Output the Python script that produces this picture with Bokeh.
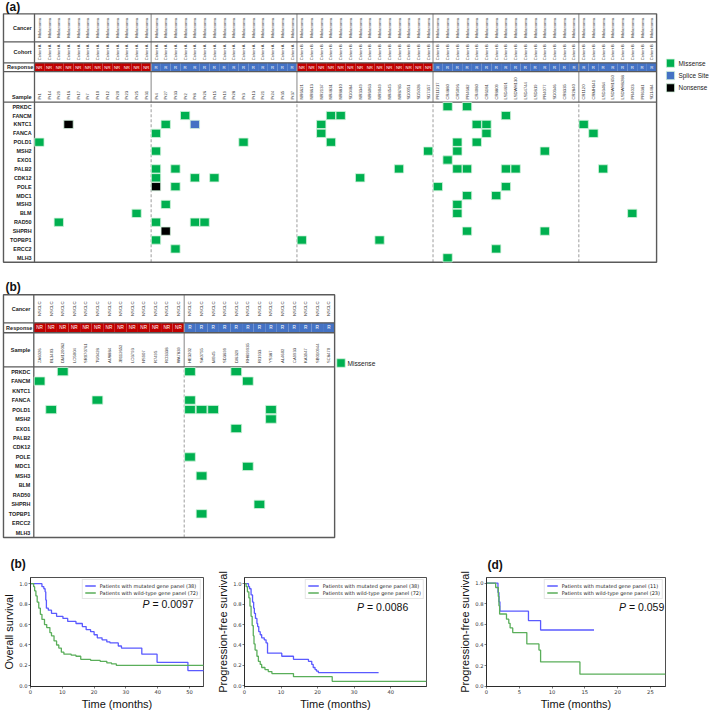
import math
from bokeh.plotting import figure
from bokeh.models import Range1d, ColumnDataSource, Spacer, NumeralTickFormatter
from bokeh.layouts import column, row
from bokeh.core.properties import value
from bokeh.embed import file_html
from bokeh.resources import INLINE

FONT = "Liberation Sans"
MPL = "DejaVu Sans"

GENES = ["PRKDC", "FANCM", "KNTC1", "FANCA", "POLD1", "MSH2", "EXO1", "PALB2", "CDK12",
         "POLE", "MDC1", "MSH3", "BLM", "RAD50", "SHPRH", "TOPBP1", "ERCC2", "MLH3"]
MUT_COLORS = {"Missense": "#00B050", "Splice Site": "#4472C4", "Nonsense": "#000000"}
RESP_COLORS = {"NR": "#C00000", "R": "#4472C4"}

# ---------------- panel (a) data ----------------
A_SAMPLES = ["Pt1", "Pt14", "Pt29", "Pt16", "Pt17", "Pt7", "Pt10", "Pt12", "Pt20", "Pt23", "Pt25", "Pt31",
             "Pt4", "Pt27", "Pt33", "Pt2", "Pt8", "Pt26", "Pt15", "Pt19", "Pt28", "Pt3", "Pt13", "Pt21",
             "Pt24", "Pt35", "Pt37",
             "NR6621", "NR8613", "NR2137", "NR4831", "NR8810", "SD0484", "NR3349", "NR6063", "NR9049",
             "NR4545", "NR8785", "SD0051", "SD5028", "SD7357",
             "PR11217", "CR4880", "CR5096", "PR4682", "CR4080", "CR6181", "CR8809", "LSD4691",
             "LSDWH130", "LSD4744", "LSD819", "PR4077", "SD0346", "CR8335", "CR2840",
             "CR1120", "CRMH341", "LSD3484", "LSDWH1650", "LSDWH8288", "PR4023", "PR6381", "SD1484"]
A_CANCER = ["Melanoma"] * 64
A_COHORT = ["Cohort A"] * 27 + ["Cohort B"] * 37
A_RESPONSE = ["NR"] * 12 + ["R"] * 15 + ["NR"] * 14 + ["R"] * 23
A_BREAKS = [12, 27, 41, 56]

A_MUT_GENE = ["PRKDC", "PRKDC",
              "FANCM", "FANCM", "FANCM", "FANCM",
              "KNTC1", "KNTC1", "KNTC1", "KNTC1", "KNTC1", "KNTC1", "KNTC1",
              "FANCA", "FANCA", "FANCA", "FANCA",
              "POLD1", "POLD1", "POLD1", "POLD1", "POLD1",
              "MSH2", "MSH2", "MSH2", "MSH2",
              "EXO1",
              "PALB2", "PALB2", "PALB2", "PALB2", "PALB2", "PALB2", "PALB2", "PALB2",
              "CDK12", "CDK12", "CDK12", "CDK12",
              "POLE", "POLE", "POLE", "POLE",
              "MDC1", "MDC1",
              "MSH3", "MSH3",
              "BLM", "BLM", "BLM",
              "RAD50", "RAD50", "RAD50", "RAD50",
              "SHPRH", "SHPRH", "SHPRH",
              "TOPBP1", "TOPBP1", "TOPBP1",
              "ERCC2", "ERCC2",
              "MLH3"]
A_MUT_SAMPLE = ["CR4880", "PR4682",
                "Pt2", "NR4831", "NR8810", "LSD4691",
                "Pt16", "Pt27", "Pt8", "NR2137", "CR4080", "CR6181", "CR1120",
                "Pt4", "NR2137", "CR6181", "CRMH341",
                "Pt1", "Pt3", "NR4831", "CR5096", "CR4080",
                "Pt4", "SD7357", "CR5096", "PR4077",
                "CR4880",
                "Pt4", "Pt33", "NR8785", "CR5096", "PR4682", "LSD4691", "LSDWH130", "LSD3484",
                "Pt4", "Pt8", "Pt15", "NR3349",
                "Pt4", "Pt33", "PR11217", "LSD4691",
                "PR4682", "CR8809",
                "Pt27", "CR5096",
                "Pt25", "CR5096", "PR4023",
                "Pt29", "Pt4", "Pt8", "Pt26",
                "Pt27", "PR4682", "PR4077",
                "Pt4", "NR6621", "NR9049",
                "Pt33", "CR8809",
                "CR4880"]
A_MUT_TYPE = ["Missense", "Missense",
              "Missense", "Missense", "Missense", "Missense",
              "Nonsense", "Missense", "Splice Site", "Missense", "Missense", "Missense", "Missense",
              "Missense", "Missense", "Missense", "Missense",
              "Missense", "Missense", "Missense", "Missense", "Missense",
              "Missense", "Missense", "Missense", "Missense",
              "Missense",
              "Missense", "Missense", "Missense", "Missense", "Missense", "Missense", "Missense", "Missense",
              "Missense", "Missense", "Missense", "Missense",
              "Nonsense", "Missense", "Missense", "Missense",
              "Missense", "Missense",
              "Missense", "Missense",
              "Missense", "Missense", "Missense",
              "Missense", "Missense", "Missense", "Missense",
              "Nonsense", "Missense", "Missense",
              "Missense", "Missense", "Missense",
              "Missense", "Missense",
              "Missense"]
A_LEGEND = ["Missense", "Splice Site", "Nonsense"]

# ---------------- panel (b) data ----------------
B_SAMPLES = ["ZA6026", "BL3403", "DM120062", "LO5004", "SR070761", "TU0428", "AU8884", "JB112652",
             "LO3793", "NS907", "R7495", "RO3338", "WA7839",
             "HE3202", "SA0755", "MI945", "SD3699", "DI6329", "RH899935", "RI1933", "YS387",
             "AL4602", "CA9933", "KA3947", "SB010944", "SC8470"]
B_CANCER = ["NSCLC"] * 26
B_RESPONSE = ["NR"] * 13 + ["R"] * 13
B_BREAKS = [13]
B_MUT_GENE = ["PRKDC", "PRKDC", "PRKDC", "FANCM", "FANCM", "FANCA", "FANCA",
              "POLD1", "POLD1", "POLD1", "POLD1", "POLD1", "MSH2", "EXO1", "POLE", "MDC1",
              "MSH3", "SHPRH", "TOPBP1"]
B_MUT_SAMPLE = ["DM120062", "HE3202", "DI6329", "ZA6026", "RH899935", "TU0428", "HE3202",
                "BL3403", "HE3202", "SA0755", "MI945", "YS387", "YS387", "DI6329", "HE3202",
                "RH899935", "SA0755", "RI1933", "SA0755"]
B_MUT_TYPE = ["Missense"] * 19
B_LEGEND = ["Missense"]

# ---------------- survival data ----------------
OS_T_MUT = [0, 3.6, 4.2, 4.6, 4.8, 5.0, 5.6, 6.6, 8.2, 10.2, 11.7, 14.3, 16.3, 17.5, 18.9, 20.0,
            21.0, 22.5, 24.0, 25.0, 27.6, 28.6, 35.0, 39.8, 49.5, 54.6]
OS_S_MUT = [1.0, 0.97, 0.95, 0.92, 0.84, 0.76, 0.74, 0.71, 0.68, 0.66, 0.63, 0.61, 0.58, 0.55, 0.53,
            0.50, 0.47, 0.45, 0.43, 0.42, 0.39, 0.37, 0.31, 0.23, 0.15, 0.15]
OS_T_WT = [0, 1.0, 1.3, 1.7, 2.1, 2.6, 3.1, 3.6, 4.4, 5.1, 6.1, 6.6, 7.4, 8.2, 8.9, 9.7, 10.5, 12.8,
           14.3, 15.8, 18.9, 21.9, 24.0, 25.5, 27.0, 54.6]
OS_S_WT = [1.0, 0.97, 0.93, 0.88, 0.82, 0.76, 0.70, 0.65, 0.60, 0.57, 0.52, 0.49, 0.44, 0.40, 0.37,
           0.33, 0.31, 0.30, 0.29, 0.26, 0.25, 0.24, 0.225, 0.215, 0.20, 0.20]

PFS_T_MUT = [0, 1.1, 1.4, 1.8, 2.2, 2.5, 2.7, 3.0, 3.4, 3.6, 3.9, 4.3, 4.7, 5.4, 5.9, 6.3, 10.2,
             13.4, 17.5, 18.4, 18.8, 19.3, 19.7, 20.2, 36.7]
PFS_S_MUT = [1.0, 0.97, 0.95, 0.89, 0.82, 0.76, 0.71, 0.66, 0.61, 0.58, 0.53, 0.50, 0.47, 0.45, 0.42,
             0.32, 0.29, 0.26, 0.24, 0.21, 0.18, 0.16, 0.145, 0.13, 0.13]
PFS_T_WT = [0, 0.45, 0.8, 1.2, 1.5, 1.8, 2.1, 2.4, 2.6, 2.9, 3.4, 3.8, 4.3, 4.7, 5.6, 6.5, 7.5,
            13.4, 24.0, 49.8]
PFS_S_WT = [1.0, 0.97, 0.92, 0.86, 0.78, 0.68, 0.59, 0.49, 0.41, 0.35, 0.29, 0.24, 0.21, 0.18, 0.16,
            0.14, 0.12, 0.09, 0.045, 0.045]

D_T_MUT = [0, 1.75, 1.9, 2.05, 6.4, 8.25, 16.4]
D_S_MUT = [1.0, 0.909, 0.818, 0.727, 0.636, 0.545, 0.545]
D_T_WT = [0, 1.4, 1.8, 1.9, 2.0, 3.05, 3.4, 3.6, 4.0, 6.15, 8.0, 8.25, 14.25, 27.3]
D_S_WT = [1.0, 0.957, 0.87, 0.78, 0.70, 0.65, 0.61, 0.565, 0.52, 0.41, 0.35, 0.235, 0.117, 0.117]

KM_LABELS_1 = ["Patients with mutated gene panel (38)", "Patients with wild-type gene panel (72)"]
KM_LABELS_3 = ["Patients with mutated gene panel (11)", "Patients with wild-type gene panel (23)"]
P_VALUES = ["0.0097", "0.0086", "0.059"]

BLUE = "#5a5aff"
GREEN = "#5aae5a"


def draw_text(p, xs, ys, texts, size, align="center", baseline="middle", angle=0.0,
              color="#222222", style="normal", font=FONT, x_offset=0):
    src = ColumnDataSource(dict(x=list(xs), y=list(ys), t=list(texts)))
    p.text(x="x", y="y", text="t", source=src, angle=angle, text_font=value(font),
           text_font_size=size, text_align=align, text_baseline=baseline,
           text_color=color, text_font_style=style, x_offset=x_offset)


def heat_panel(tag, tag_xy, samples, response, text_rows, resp_band, sample_label_y, sample_y,
               mut_gene, mut_sample, mut_type, breaks, legend_types, legend_xy, legend_dy,
               legend_size, cell_size, cw, x_start, lab_w, width, height, yr, fs):
    n = len(samples)
    ng = len(GENES)
    p = figure(width=width, height=height, x_range=Range1d(x_start, x_start + width / cw),
               y_range=Range1d(*yr), x_axis_location=None, y_axis_location=None,
               min_border=0, toolbar_location=None, output_backend="svg")
    p.grid.visible = False
    p.outline_line_color = None
    top = max(r[3] for r in text_rows)
    cols = list(range(n))
    # response band
    p.quad(left=cols, right=[c + 1 for c in cols], bottom=resp_band[0], top=resp_band[1],
           fill_color=[RESP_COLORS[r] for r in response], line_color=None)
    draw_text(p, [c + 0.5 for c in cols], [sum(resp_band) / 2] * n, response, fs["resp"], color="white")
    draw_text(p, [-0.12], [sum(resp_band) / 2], ["Response"], fs["label"], align="right", style="bold")
    # rotated header rows
    for label, vals, lo, hi, size in text_rows:
        draw_text(p, [c + 0.5 for c in cols], [(lo + hi) / 2] * n, vals, size, angle=math.pi / 2,
                  color="#333333")
        draw_text(p, [-0.3], [(lo + hi) / 2], [label], fs["label"], align="right", style="bold")
    # sample names
    draw_text(p, [c + 0.5 for c in cols], [sample_y] * n, samples, fs["sample"], align="left",
              angle=math.pi / 2, color="#333333")
    draw_text(p, [-0.3], [sample_label_y], ["Sample"], fs["label"], align="right", style="bold")
    # gene labels
    draw_text(p, [-0.3] * ng, [-(i + 0.5) for i in range(ng)], GENES, fs["gene"], align="right",
              style="bold")
    # group separators
    p.multi_line(xs=[[b, b] for b in breaks], ys=[[0, top]] * len(breaks), line_color="#9a9a9a",
                 line_width=1.2)
    p.multi_line(xs=[[b, b] for b in breaks], ys=[[-ng, 0]] * len(breaks), line_color="#a5a5a5",
                 line_width=1.1, line_dash="3 2")
    # horizontal header lines
    hlines = [0, resp_band[0], resp_band[1]] + [r[2] for r in text_rows if r[2] > resp_band[1]]
    p.multi_line(xs=[[-lab_w, n]] * len(hlines), ys=[[h, h] for h in hlines], line_color="#5a5a5a",
                 line_width=1.3)
    # label column separator and outer box
    p.line(x=[0, 0], y=[-ng, top], line_color="#5a5a5a", line_width=1.3)
    p.quad(left=-lab_w, right=n, bottom=-ng, top=top, fill_color=None,
           line_color="#5a5a5a", line_width=1.4)
    # mutation squares
    mx = [samples.index(s) + 0.5 for s in mut_sample]
    my = [-(GENES.index(g) + 0.5) for g in mut_gene]
    p.rect(x=mx, y=my, width=cell_size[0], height=cell_size[1],
           fill_color=[MUT_COLORS[t] for t in mut_type], line_color="#d2f2dc", line_width=0.8)
    # legend
    lx, ly = legend_xy
    lys = [ly + i * legend_dy for i in range(len(legend_types))]
    p.rect(x=[lx] * len(legend_types), y=lys, width=legend_size[0], height=legend_size[1],
           fill_color=[MUT_COLORS[t] for t in legend_types], line_color="#d2f2dc", line_width=0.8)
    draw_text(p, [lx + legend_size[2]] * len(legend_types), lys, legend_types, fs["legend"],
              align="left", color="#222222")
    # panel tag
    draw_text(p, [tag_xy[0]], [tag_xy[1]], [tag], "12px", align="left", style="bold", color="#111111")
    return p


FS_A = {"resp": "4.3px", "label": "5.5px", "gene": "5.4px", "sample": "4.2px", "legend": "6.4px"}
fa = heat_panel("(a)", (-2.98, 10.76), A_SAMPLES, A_RESPONSE,
                [("Cancer", A_CANCER, 6.79, 9.94, "4.3px"), ("Cohort", A_COHORT, 4.43, 6.79, "4px")],
                (3.45, 4.43), 0.6, 0.3,
                A_MUT_GENE, A_MUT_SAMPLE, A_MUT_TYPE, A_BREAKS, A_LEGEND, (65.43, 4.39), -1.39,
                (0.85, 0.93, 0.83), (0.96, 0.93), 9.72, -3.498, 3.19, 709, 275, (-19.49, 11.44), FS_A)

FS_B = {"resp": "4.7px", "label": "5.5px", "gene": "5.4px", "sample": "4.2px", "legend": "6.6px"}
fb = heat_panel("(b)", (-2.45, 8.38), B_SAMPLES, B_RESPONSE,
                [("Cancer", B_CANCER, 4.65, 7.61, "4.3px")],
                (3.6, 4.65), 1.8, 0.4,
                B_MUT_GENE, B_MUT_SAMPLE, B_MUT_TYPE, B_BREAKS, B_LEGEND, (26.55, 0.41), -1.0,
                (0.73, 0.9, 0.56), (0.93, 0.88), 11.57, -2.878, 2.62, 709, 270, (-18.84, 9.64), FS_B)


def km_panel(width, height, borders, xmax, yr, xticks, ylabel, t_mut, s_mut, t_wt, s_wt, labels,
             pval, pxy, tag, tag_offset, tag_standoff):
    bl, br, bt, bb = borders
    p = figure(width=width, height=height, x_range=Range1d(0, xmax), y_range=Range1d(*yr),
               min_border_left=bl, min_border_right=br, min_border_top=bt, min_border_bottom=bb,
               toolbar_location=None, output_backend="svg", title=tag)
    p.title.align = "left"
    p.title.offset = tag_offset
    p.title.standoff = tag_standoff
    p.title.text_font = FONT
    p.title.text_font_size = "12px"
    p.title.text_font_style = "bold"
    p.title.text_color = "#111111"
    p.grid.visible = False
    p.outline_line_color = "#222222"
    p.outline_line_width = 0.8
    p.step(t_mut, s_mut, mode="after", line_color=BLUE, line_width=1.3, legend_label=labels[0])
    p.step(t_wt, s_wt, mode="after", line_color=GREEN, line_width=1.3, legend_label=labels[1])
    for ax in (p.xaxis[0], p.yaxis[0]):
        ax.major_tick_out = 2
        ax.major_tick_in = 0
        ax.minor_tick_out = 0
        ax.minor_tick_in = 0
        ax.major_label_text_font = MPL
        ax.major_label_text_font_size = "5.2px"
        ax.major_label_text_color = "#333333"
        ax.major_label_standoff = 1
        ax.axis_label_text_font = FONT
        ax.axis_label_text_font_size = "11px"
        ax.axis_label_text_font_style = "normal"
        ax.axis_label_text_color = "#111111"
        ax.axis_label_standoff = 1
        ax.axis_line_color = "#222222"
        ax.axis_line_width = 0.8
        ax.major_tick_line_color = "#222222"
        ax.major_tick_line_width = 0.6
    p.xaxis.ticker = xticks
    p.yaxis.ticker = [0, 0.2, 0.4, 0.6, 0.8, 1.0]
    p.yaxis.formatter = NumeralTickFormatter(format="0.0")
    p.xaxis.axis_label = "Time (months)"
    p.yaxis.axis_label = ylabel
    lg = p.legend[0]
    lg.location = "top_right"
    lg.margin = 2
    lg.padding = 2
    lg.spacing = 0
    lg.label_text_font = MPL
    lg.label_text_font_size = "5px"
    lg.label_text_color = "#222222"
    lg.glyph_width = 11
    lg.glyph_height = 7
    lg.label_height = 7
    lg.label_standoff = 4
    lg.border_line_color = "#cccccc"
    lg.border_line_width = 0.8
    draw_text(p, [pxy[0]], [pxy[1]], ["P"], "10.5px", align="left", style="italic", color="#111111")
    draw_text(p, [pxy[0]], [pxy[1]], ["= " + pval], "10.5px", align="left", color="#111111",
              x_offset=10)
    return p


k1 = km_panel(212, 167, (25, 9, 32, 23), 54.4, (-0.006, 1.06), [0, 10, 20, 30, 40, 50],
              "Overall survival", OS_T_MUT, OS_S_MUT, OS_T_WT, OS_S_WT, KM_LABELS_1,
              P_VALUES[0], (35.2, 0.80), "(b)", -20, 14)
k2 = km_panel(228, 167, (32, 14, 32, 23), 49.8, (-0.006, 1.06), [0, 10, 20, 30, 40],
              "Progression-free survival", PFS_T_MUT, PFS_S_MUT, PFS_T_WT, PFS_S_WT, KM_LABELS_1,
              P_VALUES[1], (30.8, 0.77), "", 0, 14)
k3 = km_panel(254, 167, (31, 44, 30, 25), 27.3, (-0.003, 1.054), [0, 5, 10, 15, 20, 25],
              "Progression-free survival", D_T_MUT, D_S_MUT, D_T_WT, D_S_WT, KM_LABELS_3,
              P_VALUES[2], (20.2, 0.768), "(d)", 1, 12)

layout = column(fa, fb, row(k1, k2, Spacer(width=15, height=167), k3))

with open("out.html", "w") as f:
    f.write(file_html(layout, INLINE, "chart"))
